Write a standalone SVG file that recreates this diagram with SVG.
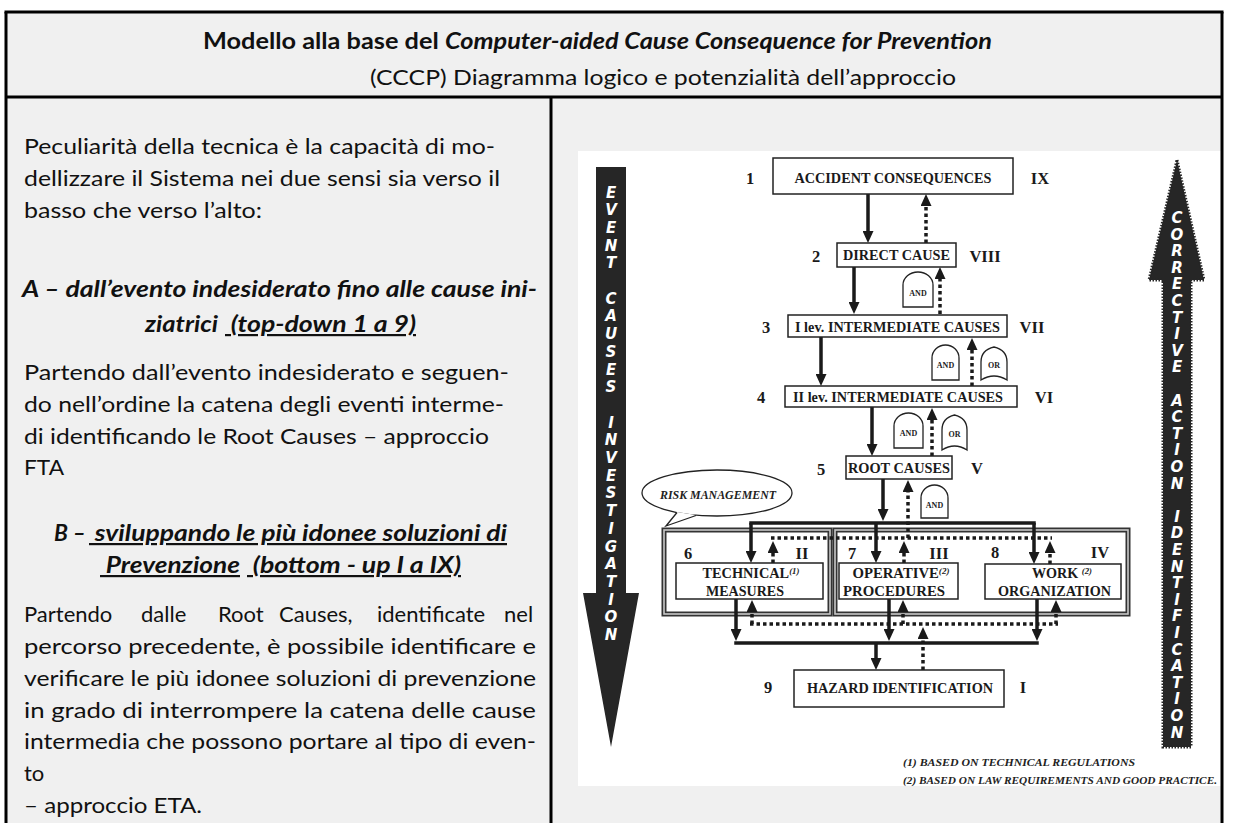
<svg xmlns="http://www.w3.org/2000/svg" width="1237" height="823" viewBox="0 0 1237 823">
<defs>
<style>
.cell{fill:#f0f0f0}
.border{stroke:#000;stroke-width:3;fill:none}
.body{font-family:Lato,"Open Sans","Liberation Sans",sans-serif;font-size:22px;fill:#111}
.b{font-weight:bold}
.bi{font-weight:bold;font-style:italic}
.ul{text-decoration:underline}
.box{fill:#fff;stroke:#222;stroke-width:1.5}
.frame{fill:none;stroke:#333;stroke-width:5}
.frame2{fill:none;stroke:#c8c8c8;stroke-width:1.6}
.bt{font-family:"Liberation Serif","Times New Roman",serif;font-weight:bold;font-size:14.5px;fill:#1a1a1a;text-anchor:middle}
.num{font-family:"Liberation Serif","Times New Roman",serif;font-weight:bold;font-size:16.5px;fill:#1a1a1a;text-anchor:middle}
.sup{font-style:italic;font-size:9px}
.solid{stroke:#1a1a1a;stroke-width:3.5;fill:none;marker-end:url(#ah)}
.dot{stroke:#1a1a1a;stroke-width:3.5;fill:none;stroke-dasharray:3.5 3;marker-end:url(#ah)}
.bus{stroke:#1a1a1a;stroke-width:3.5;fill:none}
.dbus{stroke:#1a1a1a;stroke-width:3.5;fill:none;stroke-dasharray:3.5 3}
.gate{fill:#fff;stroke:#222;stroke-width:1.3}
.gt{font-family:"Liberation Serif","Times New Roman",serif;font-weight:bold;font-size:8px;text-anchor:middle;fill:#222}
.big{fill:#262626}
.jag{fill:#262626;stroke:#262626;stroke-width:3;stroke-dasharray:1.5 1.5}
.let{font-family:"DejaVu Sans",Verdana,sans-serif;font-weight:bold;font-style:italic;font-size:15px;fill:#fff;text-anchor:middle}
.note{font-family:"Liberation Serif","Times New Roman",serif;font-weight:bold;font-style:italic;font-size:10.8px;fill:#222}
.risk{font-family:"Liberation Serif","Times New Roman",serif;font-weight:bold;font-style:italic;font-size:13px;fill:#222;text-anchor:middle}
</style>
<marker id="ah" markerUnits="userSpaceOnUse" markerWidth="12" markerHeight="11" refX="0" refY="5.5" orient="auto" viewBox="0 0 12 11"><path d="M0,0 L12,5.5 L0,11 z" fill="#1a1a1a"/></marker>
</defs>

<rect width="1237" height="823" fill="#fff"/>
<g id="table">
<rect class="cell" x="6" y="12" width="1216" height="811"/>
</g>

<g id="title">
<text class="body b" x="203" y="49" textLength="789" lengthAdjust="spacingAndGlyphs">Modello alla base del <tspan font-style="italic">Computer-aided Cause Consequence for Prevention</tspan></text>
<text class="body" x="370" y="85" textLength="586" lengthAdjust="spacingAndGlyphs">(CCCP) Diagramma logico e potenzialità dell’approccio</text>
</g>

<g id="left-text">
<text class="body" x="24" y="154" textLength="471" lengthAdjust="spacingAndGlyphs">Peculiarità della tecnica è la capacità di mo-</text>
<text class="body" x="24" y="186" textLength="476" lengthAdjust="spacingAndGlyphs">dellizzare il Sistema nei due sensi sia verso il</text>
<text class="body" x="24" y="218" textLength="238" lengthAdjust="spacingAndGlyphs">basso che verso l’alto:</text>
<text class="body bi" x="22" y="297" textLength="515" lengthAdjust="spacingAndGlyphs">A – dall’evento indesiderato fino alle cause ini-</text>
<text class="body bi" x="145" y="332" textLength="73" lengthAdjust="spacingAndGlyphs">ziatrici</text>
<text class="body bi ul" x="225" y="332" textLength="191" lengthAdjust="spacingAndGlyphs">&#160;(top-down 1 a 9)</text>
<text class="body" x="24" y="380" textLength="485" lengthAdjust="spacingAndGlyphs">Partendo dall’evento indesiderato e seguen-</text>
<text class="body" x="24" y="412" textLength="480" lengthAdjust="spacingAndGlyphs">do nell’ordine la catena degli eventi interme-</text>
<text class="body" x="24" y="444" textLength="465" lengthAdjust="spacingAndGlyphs">di identificando le Root Causes – approccio</text>
<text class="body" x="24" y="475" textLength="40" lengthAdjust="spacingAndGlyphs">FTA</text>
<text class="body bi" x="54" y="541" textLength="32" lengthAdjust="spacingAndGlyphs">B –</text>
<text class="body bi ul" x="89" y="541" textLength="418" lengthAdjust="spacingAndGlyphs">&#160;sviluppando le più idonee soluzioni di</text>
<text class="body bi ul" x="100" y="573" textLength="140" lengthAdjust="spacingAndGlyphs">&#160;Prevenzione</text>
<text class="body bi ul" x="247" y="573" textLength="214" lengthAdjust="spacingAndGlyphs">&#160;(bottom - up I a IX)</text>
<text class="body" y="622"><tspan x="24">Partendo</tspan><tspan x="141">dalle</tspan><tspan x="218">Root</tspan><tspan x="279">Causes,</tspan><tspan x="377">identificate</tspan><tspan x="504">nel</tspan></text>
<text class="body" x="24" y="654" textLength="512" lengthAdjust="spacingAndGlyphs">percorso precedente, è possibile identificare e</text>
<text class="body" x="24" y="686" textLength="512" lengthAdjust="spacingAndGlyphs">verificare le più idonee soluzioni di prevenzione</text>
<text class="body" x="24" y="718" textLength="512" lengthAdjust="spacingAndGlyphs">in grado di interrompere la catena delle cause</text>
<text class="body" x="24" y="749" textLength="512" lengthAdjust="spacingAndGlyphs">intermedia che possono portare al tipo di even-</text>
<text class="body" x="24" y="781">to</text>
<text class="body" x="24" y="813" textLength="178" lengthAdjust="spacingAndGlyphs">– approccio ETA.</text>
</g>

<rect x="578" y="151" width="644" height="635" fill="#fff"/>

<g id="event-causes-arrow">
<path class="big" d="M596,167 H626 V593 H639 L611,747 L583,593 H596 Z"/>
<text class="let"><tspan x="611" y="197.5">E</tspan><tspan x="611" y="215.2">V</tspan><tspan x="611" y="232.9">E</tspan><tspan x="611" y="250.6">N</tspan><tspan x="611" y="268.3">T</tspan></text>
<text class="let"><tspan x="611" y="303.7">C</tspan><tspan x="611" y="321.4">A</tspan><tspan x="611" y="339.1">U</tspan><tspan x="611" y="356.8">S</tspan><tspan x="611" y="374.5">E</tspan><tspan x="611" y="392.2">S</tspan></text>
<text class="let"><tspan x="611" y="427.6">I</tspan><tspan x="611" y="445.3">N</tspan><tspan x="611" y="463">V</tspan><tspan x="611" y="480.7">E</tspan><tspan x="611" y="498.4">S</tspan><tspan x="611" y="516.1">T</tspan><tspan x="611" y="533.8">I</tspan><tspan x="611" y="551.5">G</tspan><tspan x="611" y="569.2">A</tspan><tspan x="611" y="586.9">T</tspan><tspan x="611" y="604.6">I</tspan><tspan x="611" y="622.3">O</tspan><tspan x="611" y="640">N</tspan></text>
</g>

<g id="corrective-action-arrow">
<path class="jag" d="M1177,160 L1204,280 H1191 V747 H1163 V280 H1149 Z"/>
<text class="let"><tspan x="1177" y="223">C</tspan><tspan x="1177" y="239.6">O</tspan><tspan x="1177" y="256.2">R</tspan><tspan x="1177" y="272.8">R</tspan><tspan x="1177" y="289.4">E</tspan><tspan x="1177" y="306">C</tspan><tspan x="1177" y="322.6">T</tspan><tspan x="1177" y="339.2">I</tspan><tspan x="1177" y="355.8">V</tspan><tspan x="1177" y="372.4">E</tspan></text>
<text class="let"><tspan x="1177" y="405.6">A</tspan><tspan x="1177" y="422.2">C</tspan><tspan x="1177" y="438.8">T</tspan><tspan x="1177" y="455.4">I</tspan><tspan x="1177" y="472">O</tspan><tspan x="1177" y="488.6">N</tspan></text>
<text class="let"><tspan x="1177" y="521.8">I</tspan><tspan x="1177" y="538.4">D</tspan><tspan x="1177" y="555">E</tspan><tspan x="1177" y="571.6">N</tspan><tspan x="1177" y="588.2">T</tspan><tspan x="1177" y="604.8">I</tspan><tspan x="1177" y="621.4">F</tspan><tspan x="1177" y="638">I</tspan><tspan x="1177" y="654.6">C</tspan><tspan x="1177" y="671.2">A</tspan><tspan x="1177" y="687.8">T</tspan><tspan x="1177" y="704.4">I</tspan><tspan x="1177" y="721">O</tspan><tspan x="1177" y="737.6">N</tspan></text>
</g>

<g id="group-frames">
<rect class="frame" x="664" y="530" width="166" height="84"/>
<rect class="frame2" x="664" y="530" width="166" height="84"/>
<rect class="frame" x="835" y="530" width="293" height="84"/>
<rect class="frame2" x="835" y="530" width="293" height="84"/>
</g>

<g id="connectors">
<path class="solid" d="M868,194 V231"/>
<path class="solid" d="M854,267 V302"/>
<path class="solid" d="M821,337 V374"/>
<path class="solid" d="M872,407 V444"/>
<path class="solid" d="M883,479 V509"/>
<path class="bus" d="M749.25,523 H1035.75"/>
<path class="solid" d="M751,523 V551"/>
<path class="solid" d="M876,523 V551"/>
<path class="solid" d="M1034,523 V552"/>
<path class="solid" d="M736,599 V629"/>
<path class="solid" d="M889,599 V629"/>
<path class="solid" d="M1037,599 V629"/>
<path class="bus" d="M734.25,643 H1038.75"/>
<path class="solid" d="M876,643 V658"/>
<path class="dot" d="M926,243 V206"/>
<path class="dot" d="M940,314 V279"/>
<path class="dot" d="M972,386 V350"/>
<path class="dot" d="M932,456 V420"/>
<path class="dot" d="M908,538 V492"/>
<path class="dbus" d="M771,538 H1052"/>
<path class="dot" d="M773,563 V553"/>
<path class="dot" d="M904,563 V553"/>
<path class="dot" d="M1050,564 V553"/>
<path class="dbus" d="M750,624 H1058"/>
<path class="dot" d="M752,624 V612"/>
<path class="dot" d="M903,624 V612"/>
<path class="dot" d="M1056,624 V612"/>
<path class="dot" d="M923,670 V639"/>
</g>

<g id="gates">
<path class="gate" d="M903,307 V285 A15,13 0 0 1 933,285 V307 Z"/><text class="gt" x="918" y="296">AND</text>
<path class="gate" d="M932,380 V358 A13.5,13 0 0 1 959,358 V380 Z"/><text class="gt" x="945.5" y="368">AND</text>
<path class="gate" d="M981,380 V362 Q981,350 994,347 Q1007,350 1007,362 V380 Q994,372 981,380 Z"/><text class="gt" x="994" y="368">OR</text>
<path class="gate" d="M894,448 V426 A14.5,13 0 0 1 923,426 V448 Z"/><text class="gt" x="908.5" y="436">AND</text>
<path class="gate" d="M942,450 V430 Q942,418 954.5,415 Q967,418 967,430 V450 Q954.5,442 942,450 Z"/><text class="gt" x="954.5" y="437">OR</text>
<path class="gate" d="M921,518 V498 A13.5,13 0 0 1 948,498 V518 Z"/><text class="gt" x="934.5" y="508">AND</text>
</g>

<g id="node-1">
<rect class="box" x="773" y="158" width="240" height="36"/>
<text class="bt" x="893" y="183" textLength="197" lengthAdjust="spacingAndGlyphs">ACCIDENT CONSEQUENCES</text>
<text class="num" x="750" y="184">1</text><text class="num" x="1040" y="184">IX</text>
</g>
<g id="node-2">
<rect class="box" x="837" y="243" width="119" height="24"/>
<text class="bt" x="896.5" y="260" textLength="107" lengthAdjust="spacingAndGlyphs">DIRECT CAUSE</text>
<text class="num" x="816" y="262">2</text><text class="num" x="985" y="262">VIII</text>
</g>
<g id="node-3">
<rect class="box" x="788" y="315" width="219" height="22"/>
<text class="bt" x="897.5" y="331.5" textLength="205" lengthAdjust="spacingAndGlyphs">I lev. INTERMEDIATE CAUSES</text>
<text class="num" x="766" y="333">3</text><text class="num" x="1032" y="333">VII</text>
</g>
<g id="node-4">
<rect class="box" x="785" y="386" width="232" height="21"/>
<text class="bt" x="898" y="402" textLength="210" lengthAdjust="spacingAndGlyphs">II lev. INTERMEDIATE CAUSES</text>
<text class="num" x="761" y="403">4</text><text class="num" x="1044" y="403">VI</text>
</g>
<g id="node-5">
<rect class="box" x="846" y="456" width="106" height="23"/>
<text class="bt" x="899" y="473" textLength="102" lengthAdjust="spacingAndGlyphs">ROOT CAUSES</text>
<text class="num" x="821" y="475">5</text><text class="num" x="977" y="474">V</text>
</g>
<g id="node-6">
<rect class="box" x="676" y="563" width="147" height="36"/>
<text class="bt" x="751" y="578" textLength="97" lengthAdjust="spacingAndGlyphs">TECHNICAL<tspan class="sup" dy="-4">(1)</tspan></text>
<text class="bt" x="745" y="596" textLength="78" lengthAdjust="spacingAndGlyphs">MEASURES</text>
<text class="num" x="688" y="559">6</text><text class="num" x="802" y="559">II</text>
</g>
<g id="node-7">
<rect class="box" x="839" y="563" width="119" height="36"/>
<text class="bt" x="901" y="578" textLength="97" lengthAdjust="spacingAndGlyphs">OPERATIVE<tspan class="sup" dy="-4">(2)</tspan></text>
<text class="bt" x="894" y="596" textLength="102" lengthAdjust="spacingAndGlyphs">PROCEDURES</text>
<text class="num" x="852" y="559">7</text><text class="num" x="939" y="559">III</text>
</g>
<g id="node-8">
<rect class="box" x="985" y="564" width="136" height="35"/>
<text class="bt" x="1062" y="578" textLength="60" lengthAdjust="spacingAndGlyphs">WORK <tspan class="sup" dy="-4">(2)</tspan></text>
<text class="bt" x="1054.5" y="596" textLength="113" lengthAdjust="spacingAndGlyphs">ORGANIZATION</text>
<text class="num" x="995" y="558">8</text><text class="num" x="1100" y="558">IV</text>
</g>
<g id="node-9">
<rect class="box" x="794" y="670" width="210" height="37"/>
<text class="bt" x="900" y="693" textLength="186" lengthAdjust="spacingAndGlyphs">HAZARD IDENTIFICATION</text>
<text class="num" x="768" y="693">9</text><text class="num" x="1023" y="693">I</text>
</g>

<g id="risk-management">
<ellipse cx="717" cy="493" rx="75" ry="23" fill="#fff" stroke="#222" stroke-width="1.3"/>
<path d="M677,512 L666,526 L696,515 Z" fill="#fff"/>
<path d="M677,512.5 L666,526 L696,515.5" fill="none" stroke="#222" stroke-width="1.3"/>
<text class="risk" x="718" y="499" textLength="116" lengthAdjust="spacingAndGlyphs">RISK MANAGEMENT</text>
</g>

<g id="footnotes">
<text class="note" x="903" y="766" textLength="232" lengthAdjust="spacingAndGlyphs">(1)  BASED ON TECHNICAL REGULATIONS</text>
<text class="note" x="903" y="784" textLength="314" lengthAdjust="spacingAndGlyphs">(2)  BASED ON LAW REQUIREMENTS AND GOOD PRACTICE.</text>
</g>

<g id="borders">
<path class="border" d="M4.5,12 H1223.5"/>
<path class="border" d="M6,12 V823"/>
<path class="border" d="M1222,12 V823"/>
<path class="border" d="M6,97 H1222"/>
<path class="border" d="M551,97 V823"/>
</g>
</svg>
